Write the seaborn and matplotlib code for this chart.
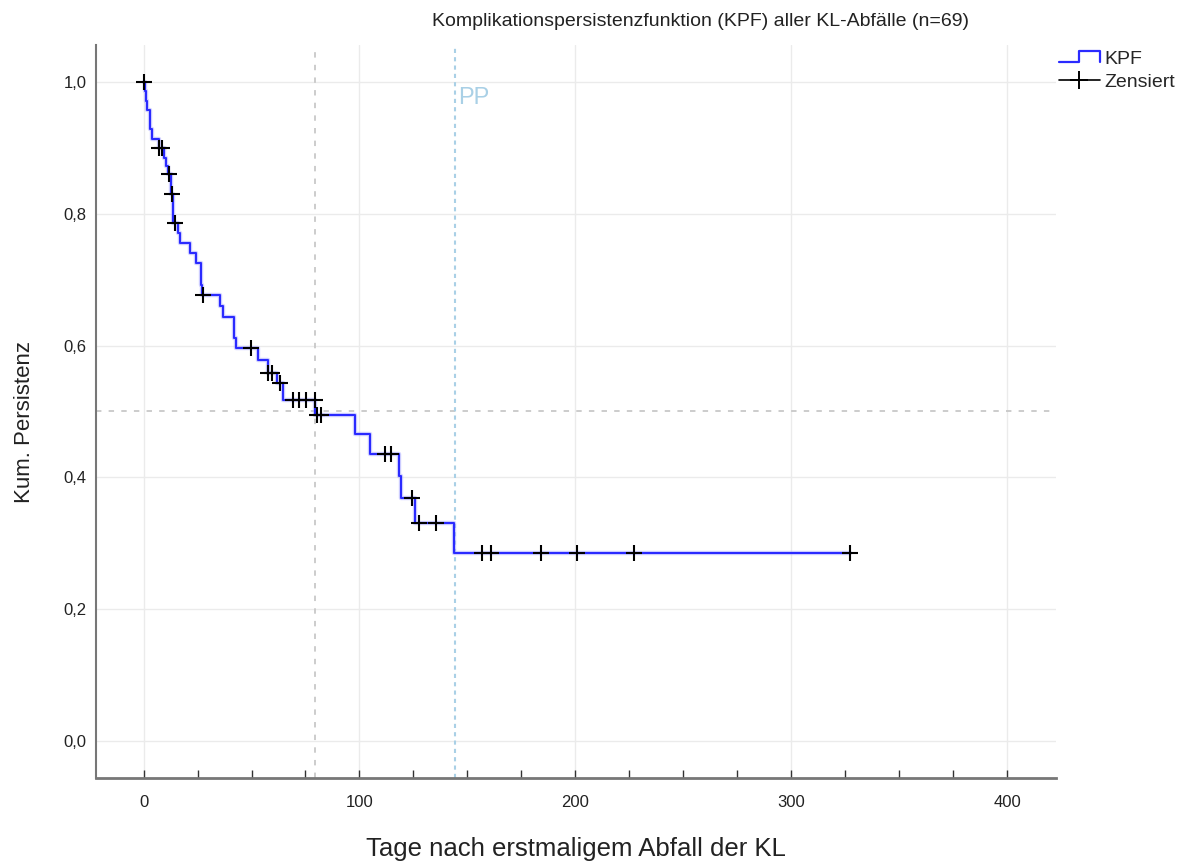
import numpy as np
import pandas as pd
import seaborn as sns
import matplotlib
matplotlib.use("Agg")
import matplotlib.pyplot as plt
import matplotlib.patheffects as pe
from matplotlib.lines import Line2D
from matplotlib.legend_handler import HandlerBase
from matplotlib.ticker import MultipleLocator, FuncFormatter

# Kaplan-Meier steps: time (days) and cumulative persistence after each step
step_times = [0, 0.5, 1.0, 1.5, 2.8, 3.8, 7.0, 9.7, 10.5, 11.5, 12.5, 13.5,
              15.9, 16.7, 21.6, 24.4, 26.8, 27.3, 35.2, 37.0, 42.1, 43.0,
              52.9, 57.5, 62.0, 64.5, 79.5, 98.0, 105.0, 118.5, 119.3,
              125.9, 143.7, 327.2]
step_surv = [1.0, 0.986, 0.971, 0.957, 0.928, 0.913, 0.899, 0.885, 0.872,
             0.860, 0.830, 0.786, 0.771, 0.756, 0.741, 0.726, 0.692, 0.677,
             0.660, 0.644, 0.611, 0.596, 0.578, 0.559, 0.543, 0.518, 0.495,
             0.466, 0.436, 0.402, 0.369, 0.331, 0.285, 0.285]

# Censored observations
censor_times = [0, 7.3, 8.5, 12.0, 13.0, 14.5, 27.6, 49.9, 57.8, 59.5, 63.3,
                69.2, 72.2, 75.4, 79.2, 80.5, 82.0, 112.0, 114.7, 124.4,
                127.5, 135.2, 156.8, 160.9, 184.1, 200.8, 227.0, 327.2]
censor_surv = [1.0, 0.899, 0.899, 0.860, 0.830, 0.786, 0.677, 0.596, 0.559,
               0.559, 0.543, 0.518, 0.518, 0.518, 0.518, 0.495, 0.495, 0.436,
               0.436, 0.369, 0.331, 0.331, 0.285, 0.285, 0.285, 0.285, 0.285,
               0.285]

median_day = 79.2
pp_day = 144.0
x_ticks = [0, 100, 200, 300, 400]
y_ticks = [0.0, 0.2, 0.4, 0.6, 0.8, 1.0]

title = "Komplikationspersistenzfunktion (KPF) aller KL-Abfälle (n=69)"
x_label = "Tage nach erstmaligem Abfall der KL"
y_label = "Kum. Persistenz"

sns.set_theme(style="white")
plt.rcParams["font.family"] = ["Liberation Sans", "DejaVu Sans"]

W, H = 1191, 863
fig = plt.figure(figsize=(W / 100, H / 100), dpi=100)
ax = fig.add_axes([96 / W, 1 - 778 / H, (1056 - 96) / W, (778 - 45) / H])

curve = pd.DataFrame({"t": step_times, "s": step_surv})
cens = pd.DataFrame({"t": censor_times, "s": censor_surv})

grid_c = "#ebebeb"
for xv in x_ticks:
    ax.axvline(xv, color=grid_c, lw=1.0, zorder=0)
for yv in y_ticks:
    ax.axhline(yv, color=grid_c, lw=1.0, zorder=0)

# reference lines: median and PP
ax.axhline(0.5, color="#c8c8c8", lw=1.3, ls=(0, (3, 4)), zorder=1)
ax.axvline(median_day, color="#c8c8c8", lw=1.3, ls=(0, (3, 4)), zorder=1)
ax.axvline(pp_day, color="#a9d0e6", lw=1.5, ls=(0, (2, 2)), zorder=1)
ax.text(pp_day + 1.5, 0.976, "PP", color="#a9d0e6", fontsize=17,
        ha="left", va="center")

sns.lineplot(data=curve, x="t", y="s", ax=ax, color="#2a2aff", lw=1.5,
             drawstyle="steps-post", estimator=None, sort=False, zorder=3,
             path_effects=[pe.Stroke(linewidth=3.2, foreground="#9f9fff",
                                     alpha=0.45), pe.Normal()])
sns.scatterplot(data=cens, x="t", y="s", ax=ax, marker="+", color="black",
                s=120, linewidth=1.5, zorder=4)

ax.set_xlim(-22, 422.5)
ax.set_ylim(-0.056, 1.056)
ax.xaxis.set_major_locator(MultipleLocator(100))
ax.xaxis.set_minor_locator(MultipleLocator(25))
ax.set_yticks(y_ticks)
ax.yaxis.set_major_formatter(FuncFormatter(lambda v, p: f"{v:.1f}".replace(".", ",")))
ax.tick_params(axis="x", which="both", direction="in", length=6, width=1,
               color="#333333", labelsize=12, pad=12, bottom=True)
ax.tick_params(axis="y", length=0, labelsize=12, pad=7)
for lab in ax.get_xticklabels() + ax.get_yticklabels():
    lab.set_color("#222222")

for side in ["top", "right"]:
    ax.spines[side].set_visible(False)
ax.spines["bottom"].set_color("#777777")
ax.spines["bottom"].set_linewidth(2)
ax.spines["left"].set_color("#777777")
ax.spines["left"].set_linewidth(1.5)

ax.set_xlabel(x_label, fontsize=18.5, color="#222222")
ax.xaxis.set_label_coords(0.5, (778 - 849) / (778 - 45))
ax.xaxis.label.set_va("center")
ax.set_ylabel(y_label, fontsize=16, color="#222222")
ax.yaxis.set_label_coords((25 - 96) / (1056 - 96), (778 - 422) / (778 - 45))
ax.yaxis.label.set_va("center")

fig.text(700 / W, 1 - 22 / H, title, ha="center", va="center", fontsize=14,
         color="#222222")


class StepHandler(HandlerBase):
    def create_artists(self, legend, orig_handle, xdescent, ydescent,
                       width, height, fontsize, trans):
        x0 = -xdescent
        xs = [x0, x0 + 0.5 * width, x0 + 0.5 * width, x0 + width, x0 + width]
        ys = [0.15 * height, 0.15 * height, 0.95 * height, 0.95 * height,
              0.15 * height]
        ln = Line2D(xs, ys, color=orig_handle.get_color(), lw=1.6)
        ln.set_transform(trans)
        return [ln]


kpf_handle = Line2D([], [], color="#2a2aff", lw=1.6)
cens_handle = Line2D([], [], color="black", lw=1.2, marker="+",
                     markersize=13, markeredgewidth=1.4)
fig.legend([kpf_handle, cens_handle], ["KPF", "Zensiert"],
           handler_map={kpf_handle: StepHandler()},
           loc="upper left", bbox_to_anchor=(1059 / W, 1 - 50 / H),
           frameon=False, fontsize=14, handlelength=2.1, handletextpad=0.25,
           labelspacing=0.3, borderpad=0, borderaxespad=0)

fig.savefig("out.png", dpi=100)
